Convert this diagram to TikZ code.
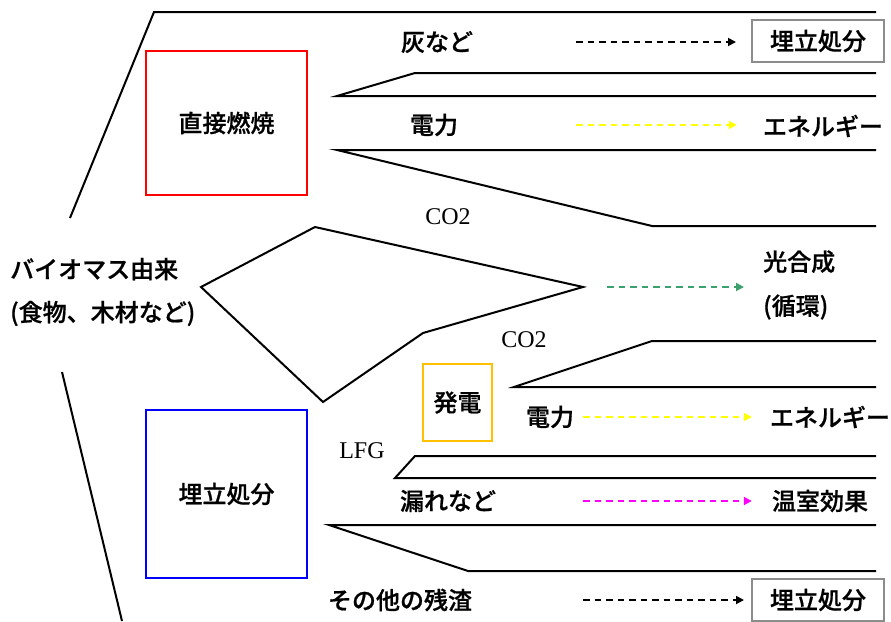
\documentclass[tikz,border=0pt]{standalone}
\usepackage{fontspec}
\setmainfont{Liberation Serif}
\newfontfamily\jp[BoldFont={Noto Sans CJK JP Medium},BoldFeatures={FakeBold=0.8}]{Noto Sans CJK JP}
\usetikzlibrary{arrows.meta}
\definecolor{flowgreen}{RGB}{60,160,110}
\definecolor{flowmagenta}{RGB}{255,0,255}
\definecolor{flowyellow}{RGB}{255,255,0}
\definecolor{boxyellow}{RGB}{255,192,0}
\definecolor{boxgray}{RGB}{140,140,140}
\begin{document}
\begin{tikzpicture}[x=1pt,y=-1pt,
  line/.style={line width=2pt, line join=miter},
  jt/.style={font=\jp\bfseries\fontsize{24}{28}\selectfont, inner sep=0pt},
  et/.style={font=\fontsize{24}{28}\selectfont, inner sep=0pt},
  bigbox/.style={draw, line width=2.5pt, font=\jp\bfseries\fontsize{24}{28}\selectfont, inner sep=0pt},
  graybox/.style={draw=boxgray, line width=2pt, minimum width=132pt, minimum height=42pt, font=\jp\bfseries\fontsize{24}{28}\selectfont, inner sep=0pt},
  flow/.style={line width=1.8pt, dash pattern=on 6.5pt off 5pt, -{Triangle[length=8pt,width=8pt]}}
]
\useasboundingbox (0,0) rectangle (891,621);

% flow bands
\draw[line] (70,218) -- (154,12) -- (876,12);
\draw[line] (876,73) -- (415,73) -- (337,96) -- (876,96);
\draw[line] (876,150) -- (337,150) -- (652,226) -- (876,226);
\draw[line] (201,287) -- (315,227) -- (583,287) -- (423,333) -- (323,402) -- cycle;
\draw[line] (62,372) -- (122,621);
\draw[line] (876,341) -- (652,341) -- (514,387) -- (876,387);
\draw[line] (876,456) -- (415,456) -- (395,478) -- (876,478);
\draw[line] (876,525) -- (329,525) -- (468,571) -- (876,571);
\coordinate (tip) at (583,287);

% boxes
\node[bigbox, draw=red, minimum width=161pt, minimum height=144pt] (burn) at (226.5,123) {直接燃焼};
\node[bigbox, draw=blue, minimum width=161pt, minimum height=168pt] (landfill) at (226.5,494) {埋立処分};
\node[bigbox, draw=boxyellow, line width=2pt, minimum width=69pt, minimum height=77pt] (gen) at (457.5,402.5) {発電};
\node[graybox] (land1) at (818,41) {埋立処分};
\node[graybox] (land2) at (818,600) {埋立処分};

% labels
\node[jt, align=left, font=\jp\bfseries\fontsize{24}{43}\selectfont, anchor=west] (bio) at (10,292) {バイオマス由来\\(食物、木材など)};
\node[jt] (ash) at (437,42) {灰など};
\node[jt] (pow1) at (434,125) {電力};
\node[jt] (energy1) at (823,126) {エネルギー};
\node[et] (co2a) at (448,217) {CO2};
\node[jt, align=left, font=\jp\bfseries\fontsize{24}{44}\selectfont, anchor=west] (photo) at (763,285) {光合成\\(循環)};
\node[et] (co2b) at (524,340) {CO2};
\node[jt] (pow2) at (550,417) {電力};
\node[jt] (energy2) at (830,417) {エネルギー};
\node[et] (lfg) at (362,451) {LFG};
\node[jt] (leak) at (448,501) {漏れなど};
\node[jt] (ghg) at (820,501) {温室効果};
\node[jt] (rest) at (400,600) {その他の残渣};

% arrows
\draw[flow, black, shorten <=103pt, shorten >=15pt] (ash.east) -- (ash.east -| land1.west);
\draw[flow, flowyellow, shorten <=118pt, shorten >=26pt] (pow1.east) -- (pow1.east -| energy1.west);
\draw[flow, flowgreen, shorten <=24pt, shorten >=19pt] (tip) -- (tip -| photo.west);
\draw[flow, flowyellow, shorten <=9pt, shorten >=18pt] (pow2.east) -- (pow2.east -| energy2.west);
\draw[flow, flowmagenta, shorten <=87pt, shorten >=20pt] (leak.east) -- (leak.east -| ghg.west);
\draw[flow, black, shorten <=111pt, shorten >=7pt] (rest.east) -- (rest.east -| land2.west);
\end{tikzpicture}
\end{document}
